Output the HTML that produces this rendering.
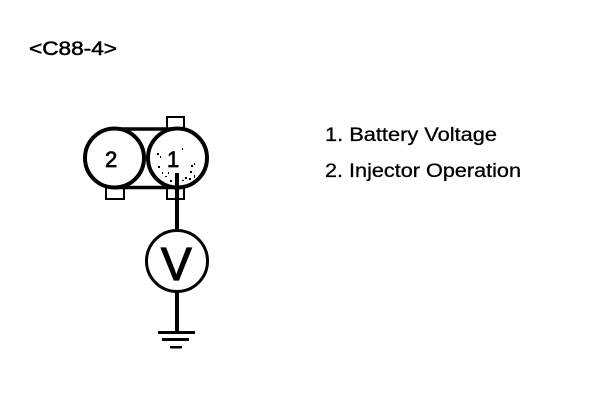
<!DOCTYPE html>
<html>
<head>
<meta charset="utf-8">
<style>
html,body{margin:0;padding:0;background:#fff;width:608px;height:406px;overflow:hidden}
svg{display:block}
text{font-family:"Liberation Sans",Arial,sans-serif;fill:#000}
</style>
</head>
<body>
<svg width="608" height="406" viewBox="0 0 608 406" xmlns="http://www.w3.org/2000/svg">
<rect width="608" height="406" fill="#fff"/>
<text x="29" y="55" font-size="19" textLength="88" lengthAdjust="spacingAndGlyphs" stroke="#000" stroke-width=".5">&lt;C88-4&gt;</text>
<g fill="#fff" stroke="#000" stroke-width="2">
<rect x="167" y="117" width="17" height="12"/>
<rect x="106" y="187" width="18" height="12"/>
<rect x="167" y="187" width="17" height="12"/>
</g>
<path d="M115 129H177M115 187.500H177" stroke="#000" stroke-width="3.500" fill="none"/>
<circle cx="114.500" cy="158" r="29.500" fill="#fff" stroke="#000" stroke-width="4"/>
<circle cx="177.500" cy="158" r="29.500" fill="#fff" stroke="#000" stroke-width="4"/>
<g fill="#000">
<rect x="157" y="153" width="2" height="2"/><rect x="160" y="156" width="1" height="2"/><rect x="158" y="166" width="2" height="2"/>
<rect x="162" y="172" width="1" height="2"/><rect x="165" y="176" width="2" height="1"/><rect x="182" y="148" width="1" height="2"/>
<rect x="191" y="165" width="2" height="2"/><rect x="190" y="171" width="2" height="2"/><rect x="194" y="163" width="1" height="2"/>
<rect x="185" y="177" width="2" height="2"/><rect x="189" y="178" width="2" height="2"/><rect x="194" y="175" width="1" height="3"/>
<rect x="170" y="180" width="2" height="2"/><rect x="182" y="180" width="2" height="1"/><rect x="168" y="172" width="1" height="2"/>
</g>
<text x="105" y="167" font-size="22" stroke="#000" stroke-width=".7">2</text>
<text x="167" y="167" font-size="22" stroke="#000" stroke-width=".7">1</text>
<rect x="175" y="173" width="4" height="58" fill="#000"/>
<circle cx="177" cy="261" r="30.500" fill="#fff" stroke="#000" stroke-width="3"/>
<text x="161" y="280" font-size="46" stroke="#000" stroke-width="1.200">V</text>
<rect x="175" y="291" width="4" height="41" fill="#000"/>
<rect x="158" y="331" width="37" height="3" fill="#000"/>
<rect x="162" y="338" width="27" height="3" fill="#000"/>
<rect x="170" y="346" width="12" height="2.500" fill="#000"/>
<text x="325" y="141" font-size="19.500" textLength="172" lengthAdjust="spacingAndGlyphs" stroke="#000" stroke-width=".3">1. Battery Voltage</text>
<text x="325" y="177" font-size="19.500" textLength="196" lengthAdjust="spacingAndGlyphs" stroke="#000" stroke-width=".3">2. Injector Operation</text>
</svg>
</body>
</html>
